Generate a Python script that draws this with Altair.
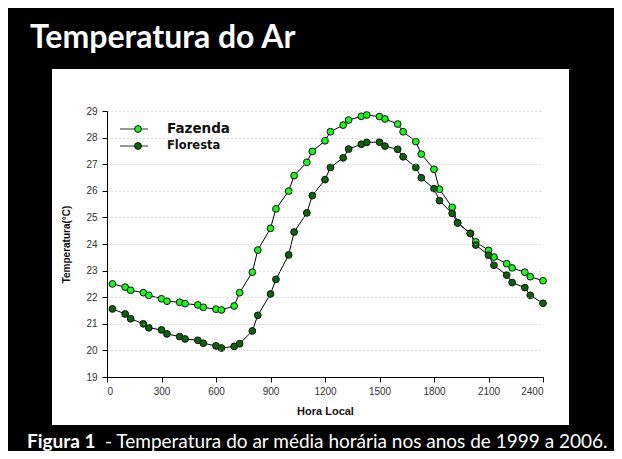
import altair as alt
import pandas as pd

# ---- data ----
hora = [30, 100, 130, 200, 230, 300, 330, 400, 430, 500, 530, 600, 630, 700, 730,
        800, 830, 900, 930, 1000, 1030, 1100, 1130, 1200, 1230, 1300, 1330, 1400,
        1430, 1500, 1530, 1600, 1630, 1700, 1730, 1800, 1830, 1900, 1930, 2000,
        2030, 2100, 2130, 2200, 2230, 2300, 2330, 2400]
fazenda = [22.50, 22.38, 22.26, 22.17, 22.07, 21.94, 21.85, 21.81, 21.76, 21.71,
           21.62, 21.55, 21.52, 21.67, 22.17, 22.94, 23.77, 24.59, 25.32, 25.99,
           26.57, 27.07, 27.48, 27.88, 28.22, 28.47, 28.66, 28.80, 28.85, 28.79,
           28.70, 28.51, 28.22, 27.85, 27.38, 26.81, 26.06, 25.38, 24.80, 24.40,
           24.08, 23.76, 23.51, 23.26, 23.10, 22.94, 22.77, 22.62]
floresta = [21.56, 21.37, 21.19, 21.00, 20.85, 20.77, 20.62, 20.52, 20.43, 20.38,
            20.27, 20.17, 20.09, 20.15, 20.25, 20.73, 21.32, 22.12, 22.67, 23.59,
            24.45, 25.17, 25.82, 26.42, 26.88, 27.24, 27.57, 27.75, 27.82, 27.83,
            27.68, 27.56, 27.28, 26.88, 26.49, 26.08, 25.63, 25.15, 24.79, 24.40,
            23.96, 23.58, 23.20, 22.83, 22.55, 22.36, 22.07, 21.77]
series_names = ["Fazenda", "Floresta"]
series_colors = ["#1cf51c", "#0a640a"]
x_ticks = [0, 300, 600, 900, 1200, 1500, 1800, 2100, 2400]
y_ticks = list(range(19, 30))

title_text = "Temperatura do Ar"
caption_bold = "Figura 1"
caption_rest = "- Temperatura do ar média horária nos anos de 1999 a 2006."

df = pd.DataFrame({
    "hora": hora * 2,
    "temp": fazenda + floresta,
    "serie": ["Fazenda"] * len(hora) + ["Floresta"] * len(hora),
})

W, H = 436, 266

x = alt.X("hora:Q", scale=alt.Scale(domain=[0, 2400], nice=False, zero=False),
          axis=alt.Axis(values=x_ticks, format="d", title="Hora Local", grid=False,
                        zindex=1, tickSize=5, labelPadding=4, titlePadding=9,
                        labelFontSize=10, titleFontSize=11, titleFontWeight="bold"))
y = alt.Y("temp:Q", scale=alt.Scale(domain=[19, 29], nice=False, zero=False),
          axis=alt.Axis(values=y_ticks, format="d", title="Temperatura(°C)", grid=True,
                        zindex=1, tickSize=5, labelPadding=5, titlePadding=14,
                        labelFontSize=10, titleFontSize=10, titleFontWeight="bold"))

panel = alt.Chart(pd.DataFrame({"k": [0]})).mark_rect(color="white").encode(
    x=alt.value(-55), x2=alt.value(462), y=alt.value(-42), y2=alt.value(314))

title = alt.Chart(pd.DataFrame({"t": [title_text]})).mark_text(
    align="left", baseline="alphabetic", font="Lato", fontWeight="bold",
    fontSize=32, color="white").encode(text="t:N", x=alt.value(-77), y=alt.value(-63))

cap1 = alt.Chart(pd.DataFrame({"t": [caption_bold]})).mark_text(
    align="left", baseline="alphabetic", font="Lato", fontWeight="bold",
    fontSize=19, color="white").encode(text="t:N", x=alt.value(-80), y=alt.value(337))
cap2 = alt.Chart(pd.DataFrame({"t": [caption_rest]})).mark_text(
    align="left", baseline="alphabetic", font="Lato",
    fontSize=19, color="white").encode(text="t:N", x=alt.value(-2), y=alt.value(337))

lines = alt.Chart(df).mark_line(color="black", strokeWidth=1).encode(
    x=x, y=y, detail="serie:N")
points = alt.Chart(df).mark_point(shape="circle", filled=True, size=46,
                                  stroke="#111", strokeWidth=1, opacity=1).encode(
    x=x, y=y,
    fill=alt.Fill("serie:N", scale=alt.Scale(domain=series_names, range=series_colors),
                  legend=None))

leg_layers = []
leg_y = [18, 35]
leg_size = [13.5, 11.5]
for name, col, yy, fs in zip(series_names, series_colors, leg_y, leg_size):
    d = pd.DataFrame({"t": [name]})
    leg_layers.append(alt.Chart(d).mark_rule(color="#333", strokeWidth=1).encode(
        x=alt.value(13), x2=alt.value(41), y=alt.value(yy)))
    leg_layers.append(alt.Chart(d).mark_point(shape="circle", filled=True, size=46,
                                              fill=col, stroke="#111", strokeWidth=1,
                                              opacity=1).encode(
        x=alt.value(31), y=alt.value(yy)))
    leg_layers.append(alt.Chart(d).mark_text(align="left", baseline="middle",
                                             font="DejaVu Sans", fontWeight="bold",
                                             fontSize=fs, color="#111").encode(
        text="t:N", x=alt.value(60), y=alt.value(yy)))

chart = alt.layer(panel, title, cap1, cap2, lines, points, *leg_layers).properties(
    width=W, height=H,
    background="black",
    autosize=alt.AutoSizeParams(type="none"),
    padding={"left": 99, "top": 103, "right": 71, "bottom": 74},
).configure_view(stroke=None).configure_axis(
    domainColor="black", tickColor="black", labelColor="#333", titleColor="#111",
    labelFont="Liberation Sans", titleFont="Liberation Sans",
    gridColor="#bdbdbd", gridDash=[1, 3], gridWidth=1,
)

chart.save("out.html", embed_options={"renderer": "svg", "actions": False})
